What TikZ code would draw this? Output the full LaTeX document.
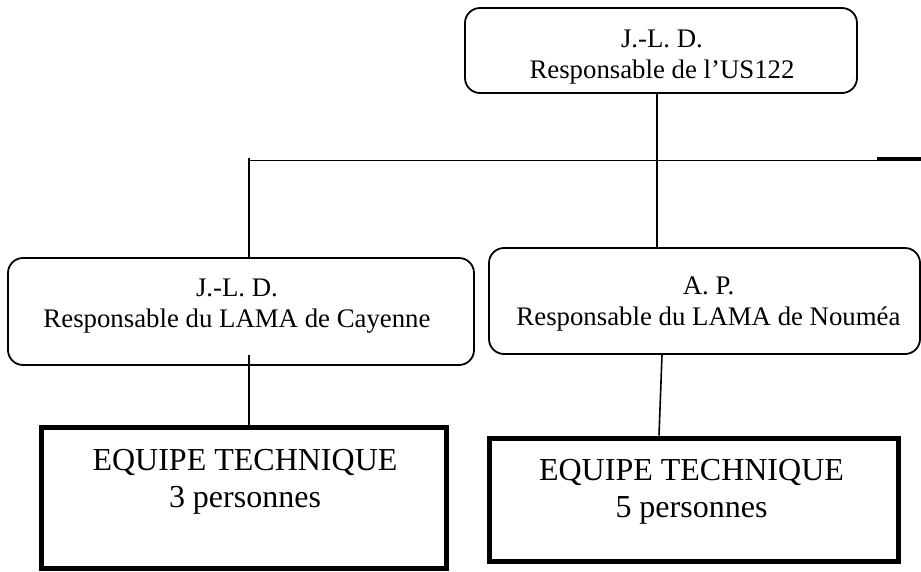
\documentclass[tikz,border=0pt]{standalone}
\usepackage{fontspec}
\setmainfont{Liberation Serif}
\begin{document}
\begin{tikzpicture}[x=1pt,y=-1pt,
  roundbox/.style={draw, line width=1.8pt, rounded corners=15pt, inner sep=0pt},
  teambox/.style={draw, line width=5pt, inner sep=0pt},
  link/.style={line width=1.6pt},
  stubline/.style={line width=3pt},
  headtxt/.style={inner sep=0pt, align=center, font=\fontsize{26.8}{30.5}\selectfont},
  teamtxt/.style={inner sep=0pt, align=center, font=\fontsize{32}{37}\selectfont}]
  \useasboundingbox (0,0) rectangle (921,571);

  % boxes
  \node[roundbox, minimum width=392pt, minimum height=85pt] (top) at (661,50.5) {};
  \node[roundbox, minimum width=466pt, minimum height=107pt] (cay) at (241,311.5) {};
  \node[roundbox, minimum width=431pt, minimum height=106pt] (nou) at (704.5,301) {};
  \node[teambox, minimum width=405pt, minimum height=141pt] (eqa) at (243.5,497.5) {};
  \node[teambox, minimum width=409pt, minimum height=123pt] (eqb) at (693.5,499.5) {};

  % texts
  \node[headtxt, anchor=north] (topT) at (662,30) {J.-L. D.\\Responsable de l'US122};
  \node[headtxt, anchor=north] (cayT) at (237,279) {J.-L. D.\\Responsable du LAMA de Cayenne};
  \node[headtxt, anchor=north] (nouT) at (708.5,277) {A. P.\\Responsable du LAMA de Nouméa};
  \node[teamtxt, anchor=north] (eqaT) at (245,449) {EQUIPE TECHNIQUE\\3 personnes};
  \node[teamtxt, anchor=north] (eqbT) at (691.5,459) {EQUIPE TECHNIQUE\\5 personnes};

  % connectors
  \coordinate (busL) at (249,160.5);
  \coordinate (busR) at (921,160.5);
  \coordinate (drop) at (657,160.5);
  \coordinate (stub) at (877,158.5);
  \coordinate (cayDrop) at (249,355);
  \coordinate (nouDrop) at (662,354);
  \coordinate (eqbIn) at (659,438);

  \draw[link] (busL) -- (busR);
  \draw[stubline] (stub) -- (stub -| busR);
  \draw[link] (top.south -| drop) -- (nou.north -| drop);
  \draw[link] ([yshift=3pt]busL) -- (cay.north -| busL);
  \draw[link] (cayDrop) -- (eqa.north -| cayDrop);
  \draw[link] (nou.south -| nouDrop) -- (eqb.north -| eqbIn);
\end{tikzpicture}
\end{document}
